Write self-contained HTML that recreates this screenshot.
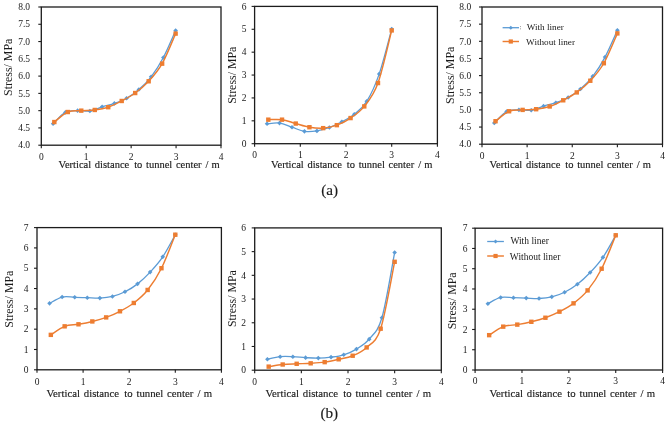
<!DOCTYPE html>
<html><head><meta charset="utf-8"><style>
html,body{margin:0;padding:0;background:#fff;}
body{width:669px;height:425px;overflow:hidden;}
svg{display:block;will-change:transform;}
.t{font-family:"Liberation Serif",serif;fill:#1a1a1a;}
.xt{stroke:#1a1a1a;stroke-width:0.15px;}
</style></head><body>
<svg width="669" height="425" viewBox="0 0 669 425">
<rect width="669" height="425" fill="#fff"/>
<rect x="41.30" y="7.00" width="179.70" height="138.20" fill="none" stroke="#1c1c1c" stroke-width="1.3"/>
<line x1="38.30" y1="145.20" x2="41.30" y2="145.20" stroke="#1c1c1c" stroke-width="1.1"/>
<text x="30.00" y="148.40" class="t" font-size="9.5" text-anchor="end">4.0</text>
<line x1="38.30" y1="127.92" x2="41.30" y2="127.92" stroke="#1c1c1c" stroke-width="1.1"/>
<text x="30.00" y="131.12" class="t" font-size="9.5" text-anchor="end">4.5</text>
<line x1="38.30" y1="110.65" x2="41.30" y2="110.65" stroke="#1c1c1c" stroke-width="1.1"/>
<text x="30.00" y="113.85" class="t" font-size="9.5" text-anchor="end">5.0</text>
<line x1="38.30" y1="93.38" x2="41.30" y2="93.38" stroke="#1c1c1c" stroke-width="1.1"/>
<text x="30.00" y="96.58" class="t" font-size="9.5" text-anchor="end">5.5</text>
<line x1="38.30" y1="76.10" x2="41.30" y2="76.10" stroke="#1c1c1c" stroke-width="1.1"/>
<text x="30.00" y="79.30" class="t" font-size="9.5" text-anchor="end">6.0</text>
<line x1="38.30" y1="58.82" x2="41.30" y2="58.82" stroke="#1c1c1c" stroke-width="1.1"/>
<text x="30.00" y="62.02" class="t" font-size="9.5" text-anchor="end">6.5</text>
<line x1="38.30" y1="41.55" x2="41.30" y2="41.55" stroke="#1c1c1c" stroke-width="1.1"/>
<text x="30.00" y="44.75" class="t" font-size="9.5" text-anchor="end">7.0</text>
<line x1="38.30" y1="24.28" x2="41.30" y2="24.28" stroke="#1c1c1c" stroke-width="1.1"/>
<text x="30.00" y="27.48" class="t" font-size="9.5" text-anchor="end">7.5</text>
<line x1="38.30" y1="7.00" x2="41.30" y2="7.00" stroke="#1c1c1c" stroke-width="1.1"/>
<text x="30.00" y="10.20" class="t" font-size="9.5" text-anchor="end">8.0</text>
<line x1="41.30" y1="145.20" x2="41.30" y2="148.20" stroke="#1c1c1c" stroke-width="1.1"/>
<text x="41.30" y="159.80" class="t" font-size="9.5" text-anchor="middle">0</text>
<line x1="86.22" y1="145.20" x2="86.22" y2="148.20" stroke="#1c1c1c" stroke-width="1.1"/>
<text x="86.22" y="159.80" class="t" font-size="9.5" text-anchor="middle">1</text>
<line x1="131.15" y1="145.20" x2="131.15" y2="148.20" stroke="#1c1c1c" stroke-width="1.1"/>
<text x="131.15" y="159.80" class="t" font-size="9.5" text-anchor="middle">2</text>
<line x1="176.07" y1="145.20" x2="176.07" y2="148.20" stroke="#1c1c1c" stroke-width="1.1"/>
<text x="176.07" y="159.80" class="t" font-size="9.5" text-anchor="middle">3</text>
<line x1="221.00" y1="145.20" x2="221.00" y2="148.20" stroke="#1c1c1c" stroke-width="1.1"/>
<text x="221.00" y="159.80" class="t" font-size="9.5" text-anchor="middle">4</text>
<text y="167.80" class="t xt" font-size="10.5"><tspan x="58.50">Vertical</tspan><tspan x="94.80">distance</tspan><tspan x="134.20">to</tspan><tspan x="146.05">tunnel</tspan><tspan x="175.90">center</tspan><tspan x="205.60">/</tspan><tspan x="211.55">m</tspan></text>
<text transform="translate(11.60,67.30) rotate(-90)" class="t" font-size="11.9" text-anchor="middle">Stress/ MPa</text>
<path d="M53.10,123.78 C55.14,121.88 61.27,114.57 65.35,112.38 C69.44,110.19 73.52,110.88 77.61,110.65 C81.69,110.42 85.77,111.63 89.86,111.00 C93.94,110.36 98.03,108.12 102.11,106.85 C106.20,105.58 110.28,104.83 114.36,103.39 C118.45,101.95 122.53,100.52 126.62,98.21 C130.70,95.91 134.78,93.14 138.87,89.57 C142.95,86.00 147.04,82.15 151.12,76.79 C155.20,71.44 159.29,65.16 163.37,57.44 C167.46,49.73 173.58,34.99 175.62,30.49" fill="none" stroke="#5B9BD5" stroke-width="1.3"/>
<path d="M53.10,121.48 L55.40,123.78 L53.10,126.08 L50.80,123.78Z" fill="#5B9BD5"/>
<path d="M65.35,110.08 L67.65,112.38 L65.35,114.68 L63.05,112.38Z" fill="#5B9BD5"/>
<path d="M77.61,108.35 L79.91,110.65 L77.61,112.95 L75.31,110.65Z" fill="#5B9BD5"/>
<path d="M89.86,108.70 L92.16,111.00 L89.86,113.30 L87.56,111.00Z" fill="#5B9BD5"/>
<path d="M102.11,104.55 L104.41,106.85 L102.11,109.15 L99.81,106.85Z" fill="#5B9BD5"/>
<path d="M114.36,101.09 L116.66,103.39 L114.36,105.69 L112.06,103.39Z" fill="#5B9BD5"/>
<path d="M126.62,95.91 L128.92,98.21 L126.62,100.51 L124.32,98.21Z" fill="#5B9BD5"/>
<path d="M138.87,87.27 L141.17,89.57 L138.87,91.87 L136.57,89.57Z" fill="#5B9BD5"/>
<path d="M151.12,74.49 L153.42,76.79 L151.12,79.09 L148.82,76.79Z" fill="#5B9BD5"/>
<path d="M163.37,55.14 L165.67,57.44 L163.37,59.74 L161.07,57.44Z" fill="#5B9BD5"/>
<path d="M175.62,28.19 L177.93,30.49 L175.62,32.79 L173.32,30.49Z" fill="#5B9BD5"/>
<path d="M54.33,122.05 C56.57,120.38 63.31,113.93 67.80,112.03 C72.30,110.13 76.79,111.00 81.28,110.65 C85.77,110.30 90.27,110.53 94.76,109.96 C99.25,109.38 103.74,108.69 108.24,107.20 C112.73,105.70 117.22,103.34 121.71,100.98 C126.21,98.62 130.70,96.31 135.19,93.03 C139.69,89.75 144.18,86.18 148.67,81.28 C153.16,76.39 157.65,71.61 162.15,63.66 C166.64,55.72 173.38,38.61 175.62,33.60" fill="none" stroke="#ED7D31" stroke-width="1.45"/>
<rect x="52.13" y="119.85" width="4.4" height="4.4" fill="#ED7D31"/>
<rect x="65.60" y="109.83" width="4.4" height="4.4" fill="#ED7D31"/>
<rect x="79.08" y="108.45" width="4.4" height="4.4" fill="#ED7D31"/>
<rect x="92.56" y="107.76" width="4.4" height="4.4" fill="#ED7D31"/>
<rect x="106.04" y="105.00" width="4.4" height="4.4" fill="#ED7D31"/>
<rect x="119.51" y="98.78" width="4.4" height="4.4" fill="#ED7D31"/>
<rect x="132.99" y="90.83" width="4.4" height="4.4" fill="#ED7D31"/>
<rect x="146.47" y="79.08" width="4.4" height="4.4" fill="#ED7D31"/>
<rect x="159.95" y="61.46" width="4.4" height="4.4" fill="#ED7D31"/>
<rect x="173.43" y="31.40" width="4.4" height="4.4" fill="#ED7D31"/>
<rect x="254.60" y="6.40" width="182.80" height="137.30" fill="none" stroke="#1c1c1c" stroke-width="1.3"/>
<line x1="251.60" y1="143.70" x2="254.60" y2="143.70" stroke="#1c1c1c" stroke-width="1.1"/>
<text x="246.50" y="146.90" class="t" font-size="9.5" text-anchor="end">0</text>
<line x1="251.60" y1="120.82" x2="254.60" y2="120.82" stroke="#1c1c1c" stroke-width="1.1"/>
<text x="246.50" y="124.02" class="t" font-size="9.5" text-anchor="end">1</text>
<line x1="251.60" y1="97.93" x2="254.60" y2="97.93" stroke="#1c1c1c" stroke-width="1.1"/>
<text x="246.50" y="101.13" class="t" font-size="9.5" text-anchor="end">2</text>
<line x1="251.60" y1="75.05" x2="254.60" y2="75.05" stroke="#1c1c1c" stroke-width="1.1"/>
<text x="246.50" y="78.25" class="t" font-size="9.5" text-anchor="end">3</text>
<line x1="251.60" y1="52.17" x2="254.60" y2="52.17" stroke="#1c1c1c" stroke-width="1.1"/>
<text x="246.50" y="55.37" class="t" font-size="9.5" text-anchor="end">4</text>
<line x1="251.60" y1="29.28" x2="254.60" y2="29.28" stroke="#1c1c1c" stroke-width="1.1"/>
<text x="246.50" y="32.48" class="t" font-size="9.5" text-anchor="end">5</text>
<line x1="251.60" y1="6.40" x2="254.60" y2="6.40" stroke="#1c1c1c" stroke-width="1.1"/>
<text x="246.50" y="9.60" class="t" font-size="9.5" text-anchor="end">6</text>
<line x1="254.60" y1="143.70" x2="254.60" y2="146.70" stroke="#1c1c1c" stroke-width="1.1"/>
<text x="254.60" y="157.60" class="t" font-size="9.5" text-anchor="middle">0</text>
<line x1="300.30" y1="143.70" x2="300.30" y2="146.70" stroke="#1c1c1c" stroke-width="1.1"/>
<text x="300.30" y="157.60" class="t" font-size="9.5" text-anchor="middle">1</text>
<line x1="346.00" y1="143.70" x2="346.00" y2="146.70" stroke="#1c1c1c" stroke-width="1.1"/>
<text x="346.00" y="157.60" class="t" font-size="9.5" text-anchor="middle">2</text>
<line x1="391.70" y1="143.70" x2="391.70" y2="146.70" stroke="#1c1c1c" stroke-width="1.1"/>
<text x="391.70" y="157.60" class="t" font-size="9.5" text-anchor="middle">3</text>
<line x1="437.40" y1="143.70" x2="437.40" y2="146.70" stroke="#1c1c1c" stroke-width="1.1"/>
<text x="437.40" y="157.60" class="t" font-size="9.5" text-anchor="middle">4</text>
<text y="168.40" class="t xt" font-size="10.5"><tspan x="271.10">Vertical</tspan><tspan x="307.40">distance</tspan><tspan x="346.80">to</tspan><tspan x="358.65">tunnel</tspan><tspan x="388.50">center</tspan><tspan x="418.20">/</tspan><tspan x="424.15">m</tspan></text>
<text transform="translate(235.70,75.20) rotate(-90)" class="t" font-size="11.9" text-anchor="middle">Stress/ MPa</text>
<path d="M267.06,123.79 C269.14,123.68 275.37,122.53 279.53,123.10 C283.68,123.68 287.84,125.85 291.99,127.22 C296.15,128.60 300.30,130.73 304.45,131.34 C308.61,131.95 312.76,131.53 316.92,130.89 C321.07,130.24 325.23,128.98 329.38,127.45 C333.54,125.93 337.69,123.94 341.85,121.73 C346.00,119.52 350.15,117.57 354.31,114.18 C358.46,110.79 362.62,108.08 366.77,101.37 C370.93,94.65 375.08,85.96 379.24,73.91 C383.39,61.85 389.62,36.53 391.70,29.05" fill="none" stroke="#5B9BD5" stroke-width="1.3"/>
<path d="M267.06,121.49 L269.36,123.79 L267.06,126.09 L264.76,123.79Z" fill="#5B9BD5"/>
<path d="M279.53,120.80 L281.83,123.10 L279.53,125.40 L277.23,123.10Z" fill="#5B9BD5"/>
<path d="M291.99,124.92 L294.29,127.22 L291.99,129.52 L289.69,127.22Z" fill="#5B9BD5"/>
<path d="M304.45,129.04 L306.75,131.34 L304.45,133.64 L302.15,131.34Z" fill="#5B9BD5"/>
<path d="M316.92,128.59 L319.22,130.89 L316.92,133.19 L314.62,130.89Z" fill="#5B9BD5"/>
<path d="M329.38,125.15 L331.68,127.45 L329.38,129.75 L327.08,127.45Z" fill="#5B9BD5"/>
<path d="M341.85,119.43 L344.15,121.73 L341.85,124.03 L339.55,121.73Z" fill="#5B9BD5"/>
<path d="M354.31,111.88 L356.61,114.18 L354.31,116.48 L352.01,114.18Z" fill="#5B9BD5"/>
<path d="M366.77,99.07 L369.07,101.37 L366.77,103.67 L364.47,101.37Z" fill="#5B9BD5"/>
<path d="M379.24,71.61 L381.54,73.91 L379.24,76.21 L376.94,73.91Z" fill="#5B9BD5"/>
<path d="M391.70,26.75 L394.00,29.05 L391.70,31.35 L389.40,29.05Z" fill="#5B9BD5"/>
<path d="M268.31,119.67 C270.60,119.67 277.45,119.02 282.02,119.67 C286.59,120.32 291.16,122.30 295.73,123.56 C300.30,124.82 304.87,126.46 309.44,127.22 C314.01,127.99 318.58,128.48 323.15,128.14 C327.72,127.80 332.29,126.84 336.86,125.16 C341.43,123.49 346.00,121.20 350.57,118.07 C355.14,114.94 359.71,112.24 364.28,106.40 C368.85,100.56 373.42,95.72 377.99,83.06 C382.56,70.40 389.41,39.20 391.70,30.43" fill="none" stroke="#ED7D31" stroke-width="1.45"/>
<rect x="266.11" y="117.47" width="4.4" height="4.4" fill="#ED7D31"/>
<rect x="279.82" y="117.47" width="4.4" height="4.4" fill="#ED7D31"/>
<rect x="293.53" y="121.36" width="4.4" height="4.4" fill="#ED7D31"/>
<rect x="307.24" y="125.02" width="4.4" height="4.4" fill="#ED7D31"/>
<rect x="320.95" y="125.94" width="4.4" height="4.4" fill="#ED7D31"/>
<rect x="334.66" y="122.96" width="4.4" height="4.4" fill="#ED7D31"/>
<rect x="348.37" y="115.87" width="4.4" height="4.4" fill="#ED7D31"/>
<rect x="362.08" y="104.20" width="4.4" height="4.4" fill="#ED7D31"/>
<rect x="375.79" y="80.86" width="4.4" height="4.4" fill="#ED7D31"/>
<rect x="389.50" y="28.23" width="4.4" height="4.4" fill="#ED7D31"/>
<rect x="482.00" y="7.00" width="180.50" height="137.20" fill="none" stroke="#1c1c1c" stroke-width="1.3"/>
<line x1="479.00" y1="144.20" x2="482.00" y2="144.20" stroke="#1c1c1c" stroke-width="1.1"/>
<text x="471.20" y="147.40" class="t" font-size="9.5" text-anchor="end">4.0</text>
<line x1="479.00" y1="127.05" x2="482.00" y2="127.05" stroke="#1c1c1c" stroke-width="1.1"/>
<text x="471.20" y="130.25" class="t" font-size="9.5" text-anchor="end">4.5</text>
<line x1="479.00" y1="109.90" x2="482.00" y2="109.90" stroke="#1c1c1c" stroke-width="1.1"/>
<text x="471.20" y="113.10" class="t" font-size="9.5" text-anchor="end">5.0</text>
<line x1="479.00" y1="92.75" x2="482.00" y2="92.75" stroke="#1c1c1c" stroke-width="1.1"/>
<text x="471.20" y="95.95" class="t" font-size="9.5" text-anchor="end">5.5</text>
<line x1="479.00" y1="75.60" x2="482.00" y2="75.60" stroke="#1c1c1c" stroke-width="1.1"/>
<text x="471.20" y="78.80" class="t" font-size="9.5" text-anchor="end">6.0</text>
<line x1="479.00" y1="58.45" x2="482.00" y2="58.45" stroke="#1c1c1c" stroke-width="1.1"/>
<text x="471.20" y="61.65" class="t" font-size="9.5" text-anchor="end">6.5</text>
<line x1="479.00" y1="41.30" x2="482.00" y2="41.30" stroke="#1c1c1c" stroke-width="1.1"/>
<text x="471.20" y="44.50" class="t" font-size="9.5" text-anchor="end">7.0</text>
<line x1="479.00" y1="24.15" x2="482.00" y2="24.15" stroke="#1c1c1c" stroke-width="1.1"/>
<text x="471.20" y="27.35" class="t" font-size="9.5" text-anchor="end">7.5</text>
<line x1="479.00" y1="7.00" x2="482.00" y2="7.00" stroke="#1c1c1c" stroke-width="1.1"/>
<text x="471.20" y="10.20" class="t" font-size="9.5" text-anchor="end">8.0</text>
<line x1="482.00" y1="144.20" x2="482.00" y2="147.20" stroke="#1c1c1c" stroke-width="1.1"/>
<text x="482.00" y="158.90" class="t" font-size="9.5" text-anchor="middle">0</text>
<line x1="527.12" y1="144.20" x2="527.12" y2="147.20" stroke="#1c1c1c" stroke-width="1.1"/>
<text x="527.12" y="158.90" class="t" font-size="9.5" text-anchor="middle">1</text>
<line x1="572.25" y1="144.20" x2="572.25" y2="147.20" stroke="#1c1c1c" stroke-width="1.1"/>
<text x="572.25" y="158.90" class="t" font-size="9.5" text-anchor="middle">2</text>
<line x1="617.38" y1="144.20" x2="617.38" y2="147.20" stroke="#1c1c1c" stroke-width="1.1"/>
<text x="617.38" y="158.90" class="t" font-size="9.5" text-anchor="middle">3</text>
<line x1="662.50" y1="144.20" x2="662.50" y2="147.20" stroke="#1c1c1c" stroke-width="1.1"/>
<text x="662.50" y="158.90" class="t" font-size="9.5" text-anchor="middle">4</text>
<text y="167.60" class="t xt" font-size="10.5"><tspan x="489.60">Vertical</tspan><tspan x="525.90">distance</tspan><tspan x="565.30">to</tspan><tspan x="577.15">tunnel</tspan><tspan x="607.00">center</tspan><tspan x="636.70">/</tspan><tspan x="642.65">m</tspan></text>
<text transform="translate(454.30,75.30) rotate(-90)" class="t" font-size="11.9" text-anchor="middle">Stress/ MPa</text>
<path d="M494.31,122.93 C496.36,121.05 502.51,113.79 506.61,111.61 C510.72,109.44 514.82,110.13 518.92,109.90 C523.02,109.67 527.12,110.87 531.23,110.24 C535.33,109.61 539.43,107.38 543.53,106.13 C547.64,104.87 551.74,104.13 555.84,102.70 C559.94,101.27 564.05,99.84 568.15,97.55 C572.25,95.27 576.35,92.52 580.45,88.98 C584.56,85.43 588.66,81.60 592.76,76.29 C596.86,70.97 600.97,64.74 605.07,57.08 C609.17,49.42 615.32,34.78 617.38,30.32" fill="none" stroke="#5B9BD5" stroke-width="1.3"/>
<path d="M494.31,120.63 L496.61,122.93 L494.31,125.23 L492.01,122.93Z" fill="#5B9BD5"/>
<path d="M506.61,109.31 L508.91,111.61 L506.61,113.91 L504.31,111.61Z" fill="#5B9BD5"/>
<path d="M518.92,107.60 L521.22,109.90 L518.92,112.20 L516.62,109.90Z" fill="#5B9BD5"/>
<path d="M531.23,107.94 L533.53,110.24 L531.23,112.54 L528.93,110.24Z" fill="#5B9BD5"/>
<path d="M543.53,103.83 L545.83,106.13 L543.53,108.43 L541.23,106.13Z" fill="#5B9BD5"/>
<path d="M555.84,100.40 L558.14,102.70 L555.84,105.00 L553.54,102.70Z" fill="#5B9BD5"/>
<path d="M568.15,95.25 L570.45,97.55 L568.15,99.85 L565.85,97.55Z" fill="#5B9BD5"/>
<path d="M580.45,86.68 L582.75,88.98 L580.45,91.28 L578.15,88.98Z" fill="#5B9BD5"/>
<path d="M592.76,73.99 L595.06,76.29 L592.76,78.59 L590.46,76.29Z" fill="#5B9BD5"/>
<path d="M605.07,54.78 L607.37,57.08 L605.07,59.38 L602.77,57.08Z" fill="#5B9BD5"/>
<path d="M617.38,28.02 L619.67,30.32 L617.38,32.62 L615.08,30.32Z" fill="#5B9BD5"/>
<path d="M495.54,121.22 C497.79,119.56 504.56,113.16 509.07,111.27 C513.59,109.39 518.10,110.24 522.61,109.90 C527.12,109.56 531.64,109.79 536.15,109.21 C540.66,108.64 545.17,107.96 549.69,106.47 C554.20,104.98 558.71,102.64 563.23,100.30 C567.74,97.95 572.25,95.67 576.76,92.41 C581.28,89.15 585.79,85.60 590.30,80.75 C594.81,75.89 599.32,71.14 603.84,63.25 C608.35,55.36 615.12,38.38 617.38,33.41" fill="none" stroke="#ED7D31" stroke-width="1.45"/>
<rect x="493.34" y="119.02" width="4.4" height="4.4" fill="#ED7D31"/>
<rect x="506.88" y="109.07" width="4.4" height="4.4" fill="#ED7D31"/>
<rect x="520.41" y="107.70" width="4.4" height="4.4" fill="#ED7D31"/>
<rect x="533.95" y="107.01" width="4.4" height="4.4" fill="#ED7D31"/>
<rect x="547.49" y="104.27" width="4.4" height="4.4" fill="#ED7D31"/>
<rect x="561.02" y="98.10" width="4.4" height="4.4" fill="#ED7D31"/>
<rect x="574.56" y="90.21" width="4.4" height="4.4" fill="#ED7D31"/>
<rect x="588.10" y="78.55" width="4.4" height="4.4" fill="#ED7D31"/>
<rect x="601.64" y="61.05" width="4.4" height="4.4" fill="#ED7D31"/>
<rect x="615.17" y="31.21" width="4.4" height="4.4" fill="#ED7D31"/>
<line x1="502.6" y1="27.7" x2="519.0" y2="27.7" stroke="#5B9BD5" stroke-width="1.3"/>
<path d="M510.80,25.70 L512.80,27.70 L510.80,29.70 L508.80,27.70Z" fill="#5B9BD5"/>
<line x1="502.6" y1="41.5" x2="519.0" y2="41.5" stroke="#ED7D31" stroke-width="1.45"/>
<rect x="508.70" y="39.40" width="4.2" height="4.2" fill="#ED7D31"/>
<text x="526.7" y="30.00" class="t" font-size="9.2">With liner</text>
<text x="526.1" y="45.10" class="t" font-size="9.2">Without liner</text>
<rect x="37.00" y="227.60" width="184.40" height="142.20" fill="none" stroke="#1c1c1c" stroke-width="1.3"/>
<line x1="34.00" y1="369.80" x2="37.00" y2="369.80" stroke="#1c1c1c" stroke-width="1.1"/>
<text x="28.60" y="373.00" class="t" font-size="9.5" text-anchor="end">0</text>
<line x1="34.00" y1="349.49" x2="37.00" y2="349.49" stroke="#1c1c1c" stroke-width="1.1"/>
<text x="28.60" y="352.69" class="t" font-size="9.5" text-anchor="end">1</text>
<line x1="34.00" y1="329.17" x2="37.00" y2="329.17" stroke="#1c1c1c" stroke-width="1.1"/>
<text x="28.60" y="332.37" class="t" font-size="9.5" text-anchor="end">2</text>
<line x1="34.00" y1="308.86" x2="37.00" y2="308.86" stroke="#1c1c1c" stroke-width="1.1"/>
<text x="28.60" y="312.06" class="t" font-size="9.5" text-anchor="end">3</text>
<line x1="34.00" y1="288.54" x2="37.00" y2="288.54" stroke="#1c1c1c" stroke-width="1.1"/>
<text x="28.60" y="291.74" class="t" font-size="9.5" text-anchor="end">4</text>
<line x1="34.00" y1="268.23" x2="37.00" y2="268.23" stroke="#1c1c1c" stroke-width="1.1"/>
<text x="28.60" y="271.43" class="t" font-size="9.5" text-anchor="end">5</text>
<line x1="34.00" y1="247.91" x2="37.00" y2="247.91" stroke="#1c1c1c" stroke-width="1.1"/>
<text x="28.60" y="251.11" class="t" font-size="9.5" text-anchor="end">6</text>
<line x1="34.00" y1="227.60" x2="37.00" y2="227.60" stroke="#1c1c1c" stroke-width="1.1"/>
<text x="28.60" y="230.80" class="t" font-size="9.5" text-anchor="end">7</text>
<line x1="37.00" y1="369.80" x2="37.00" y2="372.80" stroke="#1c1c1c" stroke-width="1.1"/>
<text x="37.00" y="384.60" class="t" font-size="9.5" text-anchor="middle">0</text>
<line x1="83.10" y1="369.80" x2="83.10" y2="372.80" stroke="#1c1c1c" stroke-width="1.1"/>
<text x="83.10" y="384.60" class="t" font-size="9.5" text-anchor="middle">1</text>
<line x1="129.20" y1="369.80" x2="129.20" y2="372.80" stroke="#1c1c1c" stroke-width="1.1"/>
<text x="129.20" y="384.60" class="t" font-size="9.5" text-anchor="middle">2</text>
<line x1="175.30" y1="369.80" x2="175.30" y2="372.80" stroke="#1c1c1c" stroke-width="1.1"/>
<text x="175.30" y="384.60" class="t" font-size="9.5" text-anchor="middle">3</text>
<line x1="221.40" y1="369.80" x2="221.40" y2="372.80" stroke="#1c1c1c" stroke-width="1.1"/>
<text x="221.40" y="384.60" class="t" font-size="9.5" text-anchor="middle">4</text>
<text y="397.00" class="t xt" font-size="10.78"><tspan x="46.50">Vertical</tspan><tspan x="83.78">distance</tspan><tspan x="124.24">to</tspan><tspan x="136.41">tunnel</tspan><tspan x="167.07">center</tspan><tspan x="197.57">/</tspan><tspan x="203.68">m</tspan></text>
<text transform="translate(12.60,299.20) rotate(-90)" class="t" font-size="11.85" text-anchor="middle">Stress/ MPa</text>
<path d="M49.57,303.37 C51.67,302.32 57.95,298.09 62.15,297.07 C66.34,296.06 70.53,297.18 74.72,297.28 C78.91,297.38 83.10,297.55 87.29,297.68 C91.48,297.82 95.67,298.29 99.86,298.09 C104.05,297.89 108.25,297.51 112.44,296.47 C116.63,295.42 120.82,293.89 125.01,291.79 C129.20,289.69 133.39,287.15 137.58,283.87 C141.77,280.59 145.96,276.59 150.15,272.09 C154.35,267.59 158.54,263.08 162.73,256.85 C166.92,250.62 173.20,238.40 175.30,234.71" fill="none" stroke="#5B9BD5" stroke-width="1.3"/>
<path d="M49.57,301.07 L51.87,303.37 L49.57,305.67 L47.27,303.37Z" fill="#5B9BD5"/>
<path d="M62.15,294.77 L64.45,297.07 L62.15,299.37 L59.85,297.07Z" fill="#5B9BD5"/>
<path d="M74.72,294.98 L77.02,297.28 L74.72,299.58 L72.42,297.28Z" fill="#5B9BD5"/>
<path d="M87.29,295.38 L89.59,297.68 L87.29,299.98 L84.99,297.68Z" fill="#5B9BD5"/>
<path d="M99.86,295.79 L102.16,298.09 L99.86,300.39 L97.56,298.09Z" fill="#5B9BD5"/>
<path d="M112.44,294.17 L114.74,296.47 L112.44,298.77 L110.14,296.47Z" fill="#5B9BD5"/>
<path d="M125.01,289.49 L127.31,291.79 L125.01,294.09 L122.71,291.79Z" fill="#5B9BD5"/>
<path d="M137.58,281.57 L139.88,283.87 L137.58,286.17 L135.28,283.87Z" fill="#5B9BD5"/>
<path d="M150.15,269.79 L152.45,272.09 L150.15,274.39 L147.85,272.09Z" fill="#5B9BD5"/>
<path d="M162.73,254.55 L165.03,256.85 L162.73,259.15 L160.43,256.85Z" fill="#5B9BD5"/>
<path d="M175.30,232.41 L177.60,234.71 L175.30,237.01 L173.00,234.71Z" fill="#5B9BD5"/>
<path d="M50.83,334.86 C53.13,333.44 60.05,328.09 64.66,326.33 C69.27,324.57 73.88,325.11 78.49,324.30 C83.10,323.48 87.71,322.60 92.32,321.45 C96.93,320.30 101.54,319.08 106.15,317.39 C110.76,315.70 115.37,313.70 119.98,311.29 C124.59,308.89 129.20,306.52 133.81,302.97 C138.42,299.41 143.03,295.75 147.64,289.96 C152.25,284.18 156.86,277.44 161.47,268.23 C166.08,259.02 173.00,240.30 175.30,234.71" fill="none" stroke="#ED7D31" stroke-width="1.45"/>
<rect x="48.63" y="332.66" width="4.4" height="4.4" fill="#ED7D31"/>
<rect x="62.46" y="324.13" width="4.4" height="4.4" fill="#ED7D31"/>
<rect x="76.29" y="322.10" width="4.4" height="4.4" fill="#ED7D31"/>
<rect x="90.12" y="319.25" width="4.4" height="4.4" fill="#ED7D31"/>
<rect x="103.95" y="315.19" width="4.4" height="4.4" fill="#ED7D31"/>
<rect x="117.78" y="309.09" width="4.4" height="4.4" fill="#ED7D31"/>
<rect x="131.61" y="300.77" width="4.4" height="4.4" fill="#ED7D31"/>
<rect x="145.44" y="287.76" width="4.4" height="4.4" fill="#ED7D31"/>
<rect x="159.27" y="266.03" width="4.4" height="4.4" fill="#ED7D31"/>
<rect x="173.10" y="232.51" width="4.4" height="4.4" fill="#ED7D31"/>
<rect x="254.70" y="227.90" width="186.60" height="142.30" fill="none" stroke="#1c1c1c" stroke-width="1.3"/>
<line x1="251.70" y1="370.20" x2="254.70" y2="370.20" stroke="#1c1c1c" stroke-width="1.1"/>
<text x="246.00" y="373.40" class="t" font-size="9.5" text-anchor="end">0</text>
<line x1="251.70" y1="346.48" x2="254.70" y2="346.48" stroke="#1c1c1c" stroke-width="1.1"/>
<text x="246.00" y="349.68" class="t" font-size="9.5" text-anchor="end">1</text>
<line x1="251.70" y1="322.77" x2="254.70" y2="322.77" stroke="#1c1c1c" stroke-width="1.1"/>
<text x="246.00" y="325.97" class="t" font-size="9.5" text-anchor="end">2</text>
<line x1="251.70" y1="299.05" x2="254.70" y2="299.05" stroke="#1c1c1c" stroke-width="1.1"/>
<text x="246.00" y="302.25" class="t" font-size="9.5" text-anchor="end">3</text>
<line x1="251.70" y1="275.33" x2="254.70" y2="275.33" stroke="#1c1c1c" stroke-width="1.1"/>
<text x="246.00" y="278.53" class="t" font-size="9.5" text-anchor="end">4</text>
<line x1="251.70" y1="251.62" x2="254.70" y2="251.62" stroke="#1c1c1c" stroke-width="1.1"/>
<text x="246.00" y="254.82" class="t" font-size="9.5" text-anchor="end">5</text>
<line x1="251.70" y1="227.90" x2="254.70" y2="227.90" stroke="#1c1c1c" stroke-width="1.1"/>
<text x="246.00" y="231.10" class="t" font-size="9.5" text-anchor="end">6</text>
<line x1="254.70" y1="370.20" x2="254.70" y2="373.20" stroke="#1c1c1c" stroke-width="1.1"/>
<text x="254.70" y="384.70" class="t" font-size="9.5" text-anchor="middle">0</text>
<line x1="301.35" y1="370.20" x2="301.35" y2="373.20" stroke="#1c1c1c" stroke-width="1.1"/>
<text x="301.35" y="384.70" class="t" font-size="9.5" text-anchor="middle">1</text>
<line x1="348.00" y1="370.20" x2="348.00" y2="373.20" stroke="#1c1c1c" stroke-width="1.1"/>
<text x="348.00" y="384.70" class="t" font-size="9.5" text-anchor="middle">2</text>
<line x1="394.65" y1="370.20" x2="394.65" y2="373.20" stroke="#1c1c1c" stroke-width="1.1"/>
<text x="394.65" y="384.70" class="t" font-size="9.5" text-anchor="middle">3</text>
<line x1="441.30" y1="370.20" x2="441.30" y2="373.20" stroke="#1c1c1c" stroke-width="1.1"/>
<text x="441.30" y="384.70" class="t" font-size="9.5" text-anchor="middle">4</text>
<text y="397.10" class="t xt" font-size="10.78"><tspan x="265.50">Vertical</tspan><tspan x="302.78">distance</tspan><tspan x="343.24">to</tspan><tspan x="355.41">tunnel</tspan><tspan x="386.07">center</tspan><tspan x="416.57">/</tspan><tspan x="422.68">m</tspan></text>
<text transform="translate(235.90,298.60) rotate(-90)" class="t" font-size="11.85" text-anchor="middle">Stress/ MPa</text>
<path d="M267.42,359.29 C269.54,358.86 275.90,357.12 280.15,356.68 C284.39,356.25 288.63,356.52 292.87,356.68 C297.11,356.84 301.35,357.39 305.59,357.63 C309.83,357.87 314.07,358.18 318.31,358.10 C322.55,358.03 326.80,357.71 331.04,357.16 C335.28,356.60 339.52,356.13 343.76,354.78 C348.00,353.44 352.24,351.70 356.48,349.09 C360.72,346.48 364.96,344.35 369.20,339.13 C373.45,333.91 377.69,332.21 381.93,317.79 C386.17,303.36 392.53,263.44 394.65,252.57" fill="none" stroke="#5B9BD5" stroke-width="1.3"/>
<path d="M267.42,356.99 L269.72,359.29 L267.42,361.59 L265.12,359.29Z" fill="#5B9BD5"/>
<path d="M280.15,354.38 L282.45,356.68 L280.15,358.98 L277.85,356.68Z" fill="#5B9BD5"/>
<path d="M292.87,354.38 L295.17,356.68 L292.87,358.98 L290.57,356.68Z" fill="#5B9BD5"/>
<path d="M305.59,355.33 L307.89,357.63 L305.59,359.93 L303.29,357.63Z" fill="#5B9BD5"/>
<path d="M318.31,355.80 L320.61,358.10 L318.31,360.40 L316.01,358.10Z" fill="#5B9BD5"/>
<path d="M331.04,354.86 L333.34,357.16 L331.04,359.46 L328.74,357.16Z" fill="#5B9BD5"/>
<path d="M343.76,352.48 L346.06,354.78 L343.76,357.08 L341.46,354.78Z" fill="#5B9BD5"/>
<path d="M356.48,346.79 L358.78,349.09 L356.48,351.39 L354.18,349.09Z" fill="#5B9BD5"/>
<path d="M369.20,336.83 L371.50,339.13 L369.20,341.43 L366.90,339.13Z" fill="#5B9BD5"/>
<path d="M381.93,315.49 L384.23,317.79 L381.93,320.09 L379.63,317.79Z" fill="#5B9BD5"/>
<path d="M394.65,250.27 L396.95,252.57 L394.65,254.87 L392.35,252.57Z" fill="#5B9BD5"/>
<path d="M268.69,366.64 C271.03,366.29 278.02,364.98 282.69,364.51 C287.36,364.03 292.02,363.99 296.69,363.80 C301.35,363.60 306.01,363.60 310.68,363.32 C315.35,363.05 320.01,362.81 324.68,362.14 C329.34,361.46 334.00,360.36 338.67,359.29 C343.33,358.22 348.00,357.71 352.67,355.73 C357.33,353.76 362.00,351.94 366.66,347.43 C371.32,342.93 375.99,342.97 380.65,328.70 C385.32,314.43 392.32,272.96 394.65,261.81" fill="none" stroke="#ED7D31" stroke-width="1.45"/>
<rect x="266.50" y="364.44" width="4.4" height="4.4" fill="#ED7D31"/>
<rect x="280.49" y="362.31" width="4.4" height="4.4" fill="#ED7D31"/>
<rect x="294.49" y="361.60" width="4.4" height="4.4" fill="#ED7D31"/>
<rect x="308.48" y="361.12" width="4.4" height="4.4" fill="#ED7D31"/>
<rect x="322.48" y="359.94" width="4.4" height="4.4" fill="#ED7D31"/>
<rect x="336.47" y="357.09" width="4.4" height="4.4" fill="#ED7D31"/>
<rect x="350.47" y="353.53" width="4.4" height="4.4" fill="#ED7D31"/>
<rect x="364.46" y="345.23" width="4.4" height="4.4" fill="#ED7D31"/>
<rect x="378.45" y="326.50" width="4.4" height="4.4" fill="#ED7D31"/>
<rect x="392.45" y="259.61" width="4.4" height="4.4" fill="#ED7D31"/>
<rect x="475.10" y="228.20" width="187.50" height="141.80" fill="none" stroke="#1c1c1c" stroke-width="1.3"/>
<line x1="472.10" y1="370.00" x2="475.10" y2="370.00" stroke="#1c1c1c" stroke-width="1.1"/>
<text x="467.60" y="373.20" class="t" font-size="9.5" text-anchor="end">0</text>
<line x1="472.10" y1="349.74" x2="475.10" y2="349.74" stroke="#1c1c1c" stroke-width="1.1"/>
<text x="467.60" y="352.94" class="t" font-size="9.5" text-anchor="end">1</text>
<line x1="472.10" y1="329.49" x2="475.10" y2="329.49" stroke="#1c1c1c" stroke-width="1.1"/>
<text x="467.60" y="332.69" class="t" font-size="9.5" text-anchor="end">2</text>
<line x1="472.10" y1="309.23" x2="475.10" y2="309.23" stroke="#1c1c1c" stroke-width="1.1"/>
<text x="467.60" y="312.43" class="t" font-size="9.5" text-anchor="end">3</text>
<line x1="472.10" y1="288.97" x2="475.10" y2="288.97" stroke="#1c1c1c" stroke-width="1.1"/>
<text x="467.60" y="292.17" class="t" font-size="9.5" text-anchor="end">4</text>
<line x1="472.10" y1="268.71" x2="475.10" y2="268.71" stroke="#1c1c1c" stroke-width="1.1"/>
<text x="467.60" y="271.91" class="t" font-size="9.5" text-anchor="end">5</text>
<line x1="472.10" y1="248.46" x2="475.10" y2="248.46" stroke="#1c1c1c" stroke-width="1.1"/>
<text x="467.60" y="251.66" class="t" font-size="9.5" text-anchor="end">6</text>
<line x1="472.10" y1="228.20" x2="475.10" y2="228.20" stroke="#1c1c1c" stroke-width="1.1"/>
<text x="467.60" y="231.40" class="t" font-size="9.5" text-anchor="end">7</text>
<line x1="475.10" y1="370.00" x2="475.10" y2="373.00" stroke="#1c1c1c" stroke-width="1.1"/>
<text x="475.10" y="383.90" class="t" font-size="9.5" text-anchor="middle">0</text>
<line x1="521.98" y1="370.00" x2="521.98" y2="373.00" stroke="#1c1c1c" stroke-width="1.1"/>
<text x="521.98" y="383.90" class="t" font-size="9.5" text-anchor="middle">1</text>
<line x1="568.85" y1="370.00" x2="568.85" y2="373.00" stroke="#1c1c1c" stroke-width="1.1"/>
<text x="568.85" y="383.90" class="t" font-size="9.5" text-anchor="middle">2</text>
<line x1="615.73" y1="370.00" x2="615.73" y2="373.00" stroke="#1c1c1c" stroke-width="1.1"/>
<text x="615.73" y="383.90" class="t" font-size="9.5" text-anchor="middle">3</text>
<line x1="662.60" y1="370.00" x2="662.60" y2="373.00" stroke="#1c1c1c" stroke-width="1.1"/>
<text x="662.60" y="383.90" class="t" font-size="9.5" text-anchor="middle">4</text>
<text y="396.80" class="t xt" font-size="10.78"><tspan x="489.50">Vertical</tspan><tspan x="526.78">distance</tspan><tspan x="567.24">to</tspan><tspan x="579.41">tunnel</tspan><tspan x="610.07">center</tspan><tspan x="640.57">/</tspan><tspan x="646.68">m</tspan></text>
<text transform="translate(456.20,300.90) rotate(-90)" class="t" font-size="11.85" text-anchor="middle">Stress/ MPa</text>
<path d="M487.88,303.76 C490.01,302.71 496.41,298.49 500.67,297.48 C504.93,296.47 509.19,297.58 513.45,297.68 C517.71,297.78 521.98,297.95 526.24,298.09 C530.50,298.22 534.76,298.69 539.02,298.49 C543.28,298.29 547.54,297.92 551.80,296.87 C556.07,295.83 560.33,294.31 564.59,292.21 C568.85,290.12 573.11,287.59 577.37,284.31 C581.63,281.04 585.90,277.05 590.16,272.56 C594.42,268.07 598.68,263.58 602.94,257.37 C607.20,251.16 613.59,238.97 615.73,235.29" fill="none" stroke="#5B9BD5" stroke-width="1.3"/>
<path d="M487.88,301.46 L490.18,303.76 L487.88,306.06 L485.58,303.76Z" fill="#5B9BD5"/>
<path d="M500.67,295.18 L502.97,297.48 L500.67,299.78 L498.37,297.48Z" fill="#5B9BD5"/>
<path d="M513.45,295.38 L515.75,297.68 L513.45,299.98 L511.15,297.68Z" fill="#5B9BD5"/>
<path d="M526.24,295.79 L528.54,298.09 L526.24,300.39 L523.94,298.09Z" fill="#5B9BD5"/>
<path d="M539.02,296.19 L541.32,298.49 L539.02,300.79 L536.72,298.49Z" fill="#5B9BD5"/>
<path d="M551.80,294.57 L554.10,296.87 L551.80,299.17 L549.50,296.87Z" fill="#5B9BD5"/>
<path d="M564.59,289.91 L566.89,292.21 L564.59,294.51 L562.29,292.21Z" fill="#5B9BD5"/>
<path d="M577.37,282.01 L579.67,284.31 L577.37,286.61 L575.07,284.31Z" fill="#5B9BD5"/>
<path d="M590.16,270.26 L592.46,272.56 L590.16,274.86 L587.86,272.56Z" fill="#5B9BD5"/>
<path d="M602.94,255.07 L605.24,257.37 L602.94,259.67 L600.64,257.37Z" fill="#5B9BD5"/>
<path d="M615.73,232.99 L618.02,235.29 L615.73,237.59 L613.43,235.29Z" fill="#5B9BD5"/>
<path d="M489.16,335.16 C491.51,333.74 498.54,328.41 503.23,326.65 C507.91,324.89 512.60,325.43 517.29,324.62 C521.98,323.81 526.66,322.94 531.35,321.79 C536.04,320.64 540.73,319.42 545.41,317.74 C550.10,316.05 554.79,314.06 559.48,311.66 C564.16,309.26 568.85,306.90 573.54,303.35 C578.23,299.81 582.91,296.16 587.60,290.39 C592.29,284.62 596.98,277.90 601.66,268.71 C606.35,259.53 613.38,240.86 615.73,235.29" fill="none" stroke="#ED7D31" stroke-width="1.45"/>
<rect x="486.96" y="332.96" width="4.4" height="4.4" fill="#ED7D31"/>
<rect x="501.03" y="324.45" width="4.4" height="4.4" fill="#ED7D31"/>
<rect x="515.09" y="322.42" width="4.4" height="4.4" fill="#ED7D31"/>
<rect x="529.15" y="319.59" width="4.4" height="4.4" fill="#ED7D31"/>
<rect x="543.21" y="315.54" width="4.4" height="4.4" fill="#ED7D31"/>
<rect x="557.27" y="309.46" width="4.4" height="4.4" fill="#ED7D31"/>
<rect x="571.34" y="301.15" width="4.4" height="4.4" fill="#ED7D31"/>
<rect x="585.40" y="288.19" width="4.4" height="4.4" fill="#ED7D31"/>
<rect x="599.46" y="266.51" width="4.4" height="4.4" fill="#ED7D31"/>
<rect x="613.52" y="233.09" width="4.4" height="4.4" fill="#ED7D31"/>
<line x1="487.2" y1="241.5" x2="503.9" y2="241.5" stroke="#5B9BD5" stroke-width="1.3"/>
<path d="M495.55,239.50 L497.55,241.50 L495.55,243.50 L493.55,241.50Z" fill="#5B9BD5"/>
<line x1="487.2" y1="256.0" x2="503.9" y2="256.0" stroke="#ED7D31" stroke-width="1.45"/>
<rect x="493.45" y="253.90" width="4.2" height="4.2" fill="#ED7D31"/>
<text x="510.4" y="243.80" class="t" font-size="9.5">With liner</text>
<text x="509.79999999999995" y="259.60" class="t" font-size="9.5">Without liner</text>
<rect x="520" y="26.2" width="0.9" height="0.9" fill="#888"/><rect x="520" y="28.4" width="0.9" height="0.9" fill="#888"/>
<text x="321.3" y="194.6" class="t xt" font-size="15.2">(a)</text>
<text x="320.4" y="418.4" class="t xt" font-size="15.2">(b)</text>
</svg>
</body></html>
